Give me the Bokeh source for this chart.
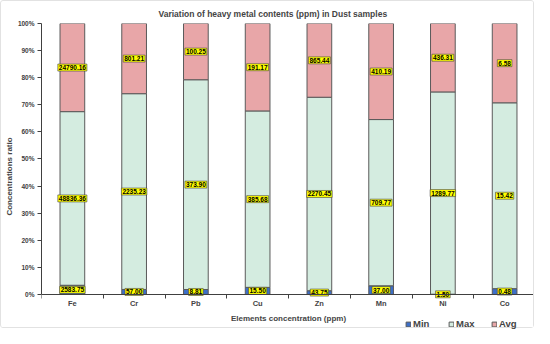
import numpy as np
from bokeh.plotting import figure
from bokeh.models import (FixedTicker, NumeralTickFormatter, Legend, LegendItem,
                          ColumnDataSource, Range1d)
from bokeh.core.properties import value
from bokeh.embed import file_html
from bokeh.resources import INLINE

elements = ["Fe", "Cr", "Pb", "Cu", "Zn", "Mn", "Ni", "Co"]
min_vals = [2583.75, 57.00, 8.81, 15.50, 43.75, 37.00, 1.50, 0.48]
max_vals = [48836.36, 2235.23, 373.90, 385.68, 2270.45, 709.77, 1289.77, 15.42]
avg_vals = [24790.16, 801.21, 100.25, 191.17, 865.44, 410.19, 436.31, 6.58]
series = ["Min", "Max", "Avg"]
colors = ["#3d6fc8", "#d4ece0", "#e8a6a8"]
y_ticks = [0.0, 0.1, 0.2, 0.3, 0.4, 0.5, 0.6, 0.7, 0.8, 0.9, 1.0]

FONT = "Liberation Sans"

mn = np.array(min_vals)
mx = np.array(max_vals)
av = np.array(avg_vals)
tot = mn + mx + av
x = np.arange(len(elements)) + 0.5

src = ColumnDataSource(dict(x=x, Min=mn / tot, Max=mx / tot, Avg=av / tot))

p = figure(width=534, height=328, output_backend="svg", toolbar_location=None,
           x_range=Range1d(0, len(elements)), y_range=Range1d(-0.1294, 1),
           min_border_left=31, min_border_right=0, min_border_top=16, min_border_bottom=0)
p.styles = {"border": "1px solid #e2e2e2", "border-radius": "3px", "box-sizing": "border-box"}

p.title.text = "Variation  of heavy metal contents (ppm) in  Dust samples"
p.title.align = "left"
p.title.offset = 117
p.title.text_font = FONT
p.title.text_font_size = "8.5px"
p.title.text_font_style = "bold"

rs = p.vbar_stack(series, x="x", width=0.4, source=src, color=colors,
                  line_color="#5a5a5a", line_width=1)

# labels in segment middles
fr = [mn / tot, mx / tot, av / tot]
vals = [mn, mx, av]
base = np.zeros(len(elements))
for f, v in zip(fr, vals):
    mid = base + f / 2
    base = base + f
    lsrc = ColumnDataSource(dict(x=x, y=mid, t=[f"{a:.2f}" for a in v]))
    p.text(x="x", y="y", text="t", source=lsrc, text_align="center", text_baseline="middle",
           text_font=value(FONT), text_font_size="6.5px", text_font_style="bold",
           text_color="black", background_fill_color="#ffff00",
           border_line_color="#444444", border_line_width=0.6, padding=1)

p.grid.visible = False
p.outline_line_color = None

xa = p.xaxis[0]
xa.fixed_location = 0
xa.ticker = FixedTicker(ticks=list(x), minor_ticks=list(range(len(elements) + 1)))
xa.major_label_overrides = {float(xi): e for xi, e in zip(x, elements)}
xa.major_tick_line_color = None
xa.major_tick_in = 0
xa.major_tick_out = 0
xa.minor_tick_in = 0
xa.minor_tick_out = 4
xa.minor_tick_line_color = "#404040"
xa.axis_line_color = "#404040"
xa.major_label_text_font = FONT
xa.major_label_text_font_size = "7.5px"
xa.major_label_text_font_style = "bold"
xa.major_label_standoff = 1
xa.axis_label = "Elements concentration (ppm)"
xa.axis_label_text_font = FONT
xa.axis_label_text_font_size = "8px"
xa.axis_label_text_font_style = "bold"
xa.axis_label_standoff = 2

ya = p.yaxis[0]
ya.bounds = (0, 1)
ya.ticker = FixedTicker(ticks=y_ticks)
ya.formatter = NumeralTickFormatter(format="0%")
ya.minor_tick_line_color = None
ya.major_tick_in = 0
ya.major_tick_out = 4
ya.major_tick_line_color = "#404040"
ya.axis_line_color = "#404040"
ya.major_label_text_font = FONT
ya.major_label_text_font_size = "6.5px"
ya.major_label_text_font_style = "bold"
ya.major_label_text_color = "#404040"
ya.major_label_standoff = 3
ya.axis_label = "Concentrations ratio"
ya.axis_label_text_font = FONT
ya.axis_label_text_font_size = "8px"
ya.axis_label_text_font_style = "bold"
ya.axis_label_standoff = 1

legend = Legend(items=[LegendItem(label=s, renderers=[r]) for s, r in zip(series, rs)],
                orientation="horizontal", location=(364, 0), margin=0,
                label_text_font=FONT, label_text_font_size="9.5px",
                label_text_font_style="bold", glyph_width=6, glyph_height=6,
                spacing=0, label_standoff=2, padding=1, label_width=35,
                border_line_color=None, background_fill_alpha=0)
p.add_layout(legend, "center")

open("out.html", "w").write(file_html(p, INLINE))
